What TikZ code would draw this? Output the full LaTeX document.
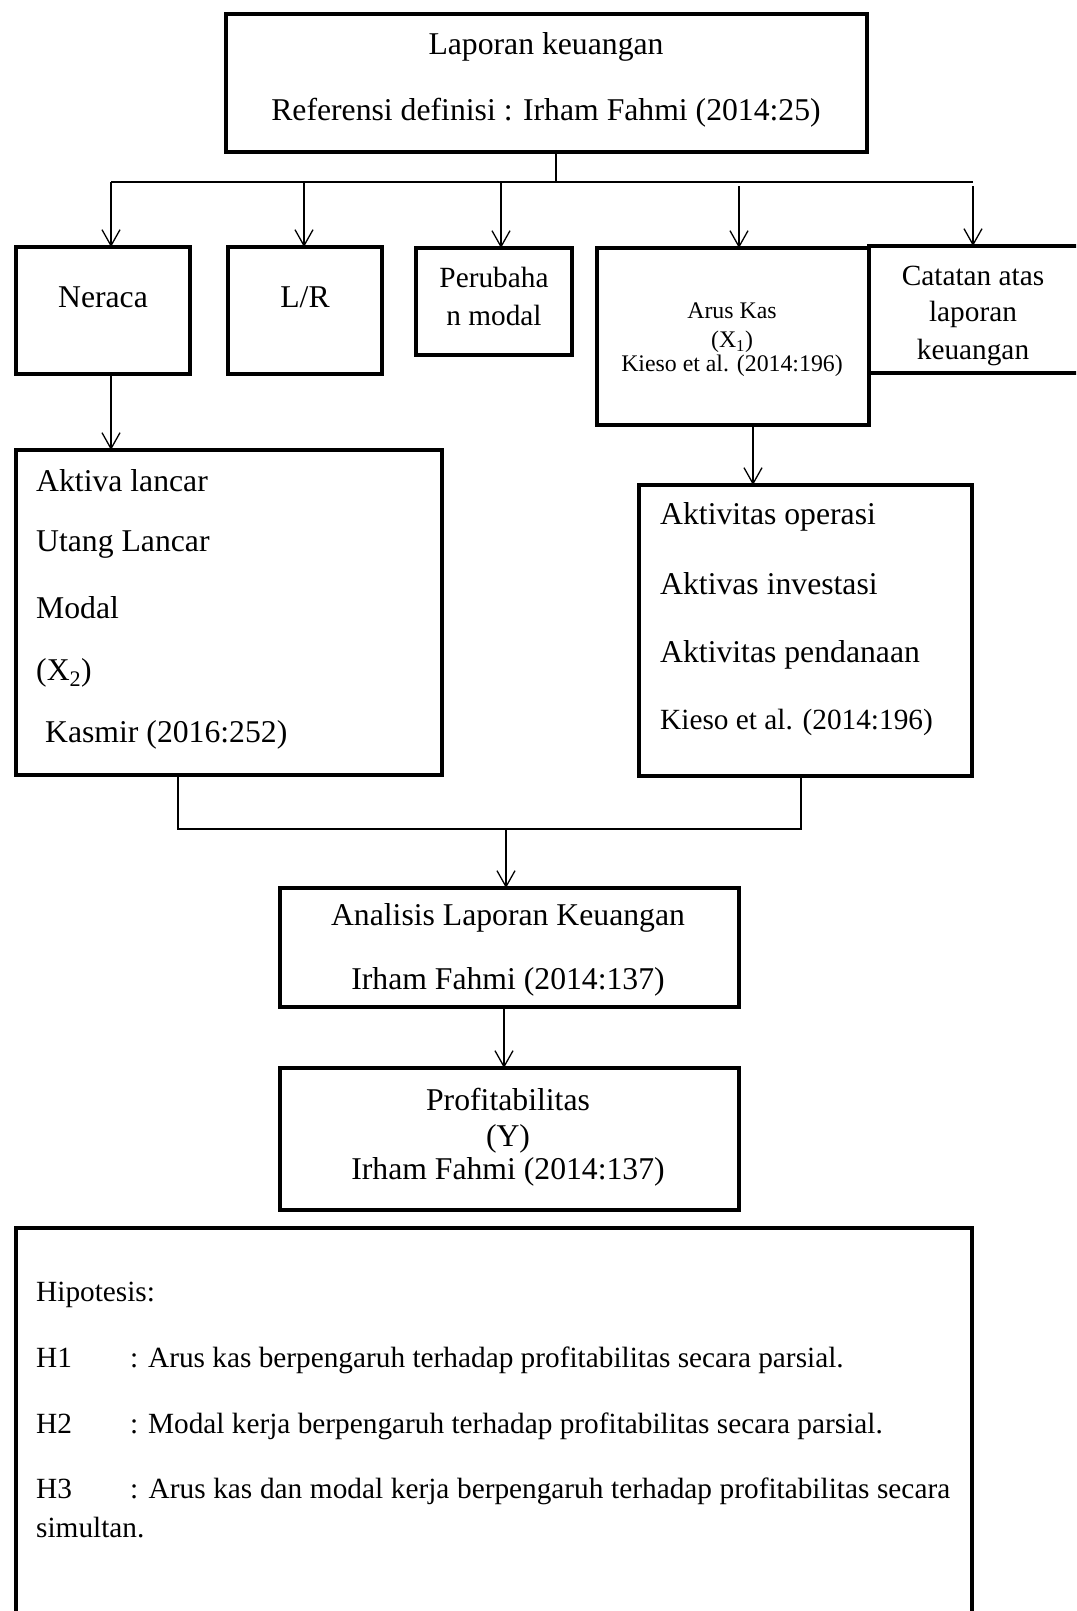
\documentclass[tikz,border=0pt]{standalone}
\usepackage{fontspec}
\setmainfont{Liberation Serif}
\usetikzlibrary{arrows.meta,calc}
\begin{document}
\begin{tikzpicture}[x=1pt,y=-1pt,
 box/.style={draw, line width=4.5pt, inner sep=0pt, outer sep=0pt},
 conn/.style={line width=1.3pt},
 arr/.style={conn, -{Straight Barb[length=16pt,width=18pt]}},
 big/.style={font=\fontsize{31.7}{38}\selectfont, inner sep=0pt},
 med/.style={font=\fontsize{29.3}{35}\selectfont, inner sep=0pt},
 sml/.style={font=\fontsize{23.8}{28}\selectfont, inner sep=0pt}]
\useasboundingbox (0,0) rectangle (1076,1611);
\clip (0,0) rectangle (1076,1611);
% boxes
\node[box, minimum width=641pt, minimum height=138pt] (top) at (546.5,83) {};
\node[box, minimum width=174pt, minimum height=127pt] (neraca) at (103,310.5) {};
\node[box, minimum width=154pt, minimum height=127pt] (lr) at (305,310.5) {};
\node[box, minimum width=156pt, minimum height=107pt] (perub) at (494,301.5) {};
\node[box, minimum width=272pt, minimum height=177pt] (arus) at (733,336.5) {};
\node[box, minimum width=231pt, minimum height=127pt] (catat) at (984.5,309.5) {};
\node[box, minimum width=426pt, minimum height=325pt] (aktiva) at (229,612.5) {};
\node[box, minimum width=333pt, minimum height=291pt] (kegiat) at (805.5,630.5) {};
\node[box, minimum width=459pt, minimum height=119pt] (anal) at (509.5,947.5) {};
\node[box, minimum width=459pt, minimum height=142pt] (profit) at (509.5,1139) {};
\node[box, minimum width=956pt, minimum height=422pt] (hipo) at (494,1439) {};
% texts
\node[big] (t1) at (546,47) {Laporan keuangan};
\node[big] (t2) at (546,113) {Referensi definisi : Irham Fahmi (2014:25)};
\node[big] (tn) at (103,297) {Neraca};
\node[big] (tl) at (305,297) {L/R};
\node[med] (tp1) at (494,277) {Perubaha};
\node[med] (tp2) at (494,315) {n modal};
\node[sml] (ta1) at (732,311) {Arus Kas};
\node[sml] (ta2) at (732,342) {(X\textsubscript{1})};
\node[sml] (ta3) at (732,366) {Kieso et al. (2014:196)};
\node[med] (tc1) at (973,276) {Catatan atas};
\node[med] (tc2) at (973,314) {laporan};
\node[med] (tc3) at (973,352) {keuangan};
\node[big, anchor=west] (tk1) at (36,481) {Aktiva lancar};
\node[big, anchor=west] (tk2) at (36,545) {Utang Lancar};
\node[big, anchor=west] (tk3) at (36,608) {Modal};
\node[big, anchor=west] (tk4) at (36,673) {(X\textsubscript{2})};
\node[big, anchor=west] (tk5) at (45,735) {Kasmir (2016:252)};
\node[big, anchor=west] (tg1) at (660,517) {Aktivitas operasi};
\node[big, anchor=west] (tg2) at (660,584) {Aktivas investasi};
\node[big, anchor=west] (tg3) at (660,655) {Aktivitas pendanaan};
\node[med, anchor=west] (tg4) at (660,722) {Kieso et al. (2014:196)};
\node[big] (tan1) at (508,918) {Analisis Laporan Keuangan};
\node[big] (tan2) at (508,982) {Irham Fahmi (2014:137)};
\node[big] (tpr1) at (508,1099) {Profitabilitas};
\node[big] (tpr2) at (508,1139) {(Y)};
\node[big] (tpr3) at (508,1172) {Irham Fahmi (2014:137)};
\node[med, anchor=base west] (th0) at (36,1301) {Hipotesis:};
\node[med, anchor=base west] (th1) at (36,1367) {H1};
\node[med, anchor=base west] (th1b) at (130,1367) {: Arus kas berpengaruh terhadap profitabilitas secara parsial.};
\node[med, anchor=base west] (th2) at (36,1433) {H2};
\node[med, anchor=base west] (th2b) at (130,1433) {: Modal kerja berpengaruh terhadap profitabilitas secara parsial.};
\node[med, anchor=base west] (th3) at (36,1498) {H3};
\node[med, anchor=base west] (th3b) at (130,1498) {\makebox[820pt][s]{: Arus kas dan modal kerja berpengaruh terhadap profitabilitas secara}};
\node[med, anchor=base west] (th4) at (36,1537) {simultan.};
% connectors
\coordinate (stem) at (556,182);
\coordinate (busL) at (111,182);
\coordinate (busR) at (973,182);
\coordinate (b2) at (304,182);
\coordinate (b3) at (501,182);
\coordinate (b4) at (739,186);
\coordinate (b5) at (973,186);
\draw[conn] (top.south -| stem) -- (stem);
\draw[conn] (busL) -- (busR);
\draw[arr] (busL) -- (busL |- neraca.north);
\draw[arr] (b2) -- (b2 |- lr.north);
\draw[arr] (b3) -- (b3 |- perub.north);
\draw[arr] (b4) -- (b4 |- arus.north);
\draw[arr] (b5) -- (b5 |- catat.north);
\draw[arr] (busL |- neraca.south) -- (busL |- aktiva.north);
\coordinate (ak) at (753,430);
\draw[arr] (ak |- arus.south) -- (ak |- kegiat.north);
\coordinate (m1) at (178,829);
\coordinate (m2) at (801,829);
\coordinate (m3) at (506,829);
\draw[conn] (aktiva.south -| m1) -- (m1) -- (m2) -- (kegiat.south -| m2);
\draw[arr] (m3) -- (m3 |- anal.north);
\coordinate (p1) at (504,1010);
\draw[arr] (p1 |- anal.south) -- (p1 |- profit.north);
\end{tikzpicture}
\end{document}
